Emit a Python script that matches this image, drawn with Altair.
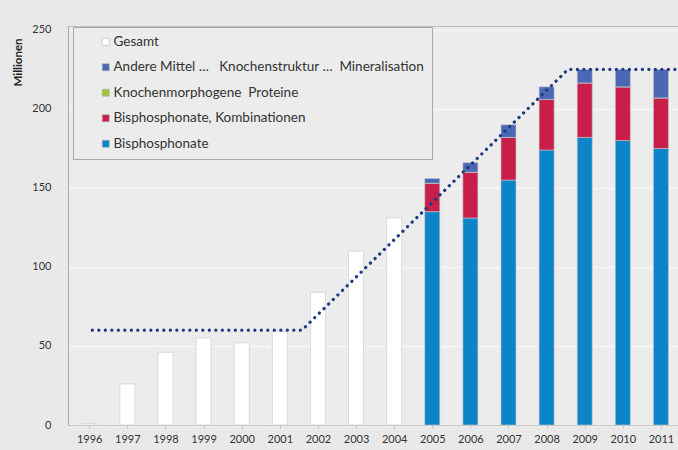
import altair as alt
import pandas as pd

# Gesamtumsatz 1996-2004 (Millionen)
years_total = [1996, 1997, 1998, 1999, 2000, 2001, 2002, 2003, 2004]
total = [1, 26, 46, 55, 52, 59, 84, 110, 131]

# Aufschlüsselung 2005-2011 (Millionen)
years_split = [2005, 2006, 2007, 2008, 2009, 2010, 2011]
bisphosphonate = [135, 131, 155, 174, 182, 180, 175]
bisphos_komb = [18, 29, 27, 32, 34.5, 34, 32]
bmp = [0, 0, 0, 0, 0, 0, 0]
andere = [3, 6, 8, 8, 8.5, 11, 18]

# Trendlinie (gepunktet)
trend_x = [1996.08, 2001.58, 2008.56, 2011.5]
trend_y = [60, 60, 225, 225]

series = [
    "Gesamt",
    "Andere Mittel\u00a0…\u00a0\u00a0 Knochenstruktur\u00a0…\u00a0\u00a0Mineralisation",
    "Knochenmorphogene\u00a0\u00a0Proteine",
    "Bisphosphonate, Kombinationen",
    "Bisphosphonate",
]
colors = ["#ffffff", "#4a68b4", "#9dc23a", "#c81e4a", "#0b85c8"]
stack_rank = {series[0]: 0, series[4]: 0, series[3]: 1, series[2]: 2, series[1]: 3}

rows = [{"Jahr": y, "Reihe": series[0], "Wert": v} for y, v in zip(years_total, total)]
for name, vals in [(series[4], bisphosphonate), (series[3], bisphos_komb),
                   (series[2], bmp), (series[1], andere)]:
    rows += [{"Jahr": y, "Reihe": name, "Wert": v} for y, v in zip(years_split, vals)]
df = pd.DataFrame(rows)
df["rang"] = df["Reihe"].map(stack_rank)

trend = pd.DataFrame({"Jahr": trend_x, "Wert": trend_y})

FONT = "Lato"
x_scale = alt.Scale(domain=[1995.574, 2011.316], nice=False, zero=False)
y_scale = alt.Scale(domain=[0, 252.5], nice=False)

bars = alt.Chart(df).mark_bar(size=15, stroke="#c8c8c8", strokeWidth=0.6).encode(
    x=alt.X("Jahr:Q", scale=x_scale,
            axis=alt.Axis(values=list(range(1996, 2012)), format="d", title=None,
                          grid=False, labelFontSize=11, labelColor="#333333",
                          labelPadding=5, tickSize=3, tickColor="#c0c0c0",
                          domainColor="#c8c8c8", labelFont=FONT,
                          labelOverlap=False, labelFlush=False)),
    y=alt.Y("Wert:Q", stack="zero", scale=y_scale,
            axis=alt.Axis(values=[0, 50, 100, 150, 200, 250], title="Millionen",
                          titleFontSize=11.5, titleFontWeight="bold", titleFont=FONT,
                          titleColor="#222222", titleX=-50, titleY=36,
                          titleAlign="center", titleBaseline="middle", titleAngle=270,
                          labelFontSize=11, labelColor="#333333", labelFont=FONT,
                          labelPadding=17, ticks=False, domainColor="#a8a8a8",
                          gridColor="#f6f6f6", gridWidth=1.5)),
    color=alt.Color("Reihe:N", scale=alt.Scale(domain=series, range=colors),
                    legend=alt.Legend(title=None, orient="none", legendX=5, legendY=1,
                                      symbolType="square", symbolSize=50,
                                      symbolStrokeColor="#b8b8b8", symbolStrokeWidth=0.6,
                                      symbolOffset=18, labelOffset=1,
                                      labelFontSize=13.5, labelFont=FONT,
                                      labelColor="#333333", labelLimit=440,
                                      rowPadding=10.5, padding=8,
                                      fillColor="#ececec", strokeColor="#a8a8a8")),
    order=alt.Order("rang:Q"),
)

line = alt.Chart(trend).mark_line(
    color="#1f3a84", strokeWidth=3.2, strokeDash=[0.1, 6.4], strokeCap="round", clip=True
).encode(
    x=alt.X("Jahr:Q", scale=x_scale),
    y=alt.Y("Wert:Q", scale=y_scale),
)

chart = alt.layer(bars, line).properties(
    width=610, height=399,
    autosize=alt.AutoSizeParams(type="none"),
    padding={"left": 68, "top": 26, "right": 0, "bottom": 25},
    background="#e9e9e9",
).configure_view(fill="#ececec", stroke="#bdbdbd", strokeWidth=1)

chart.save("out.html", embed_options={"renderer": "svg", "actions": False})
